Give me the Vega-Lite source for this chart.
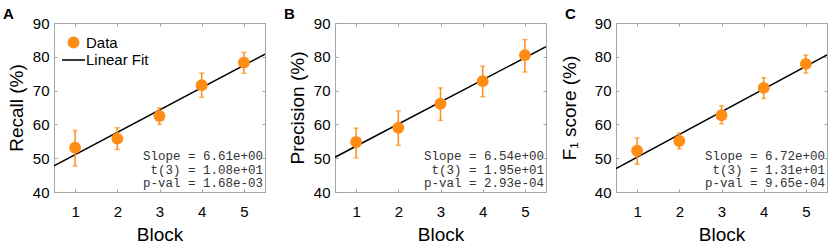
{
  "$schema": "https://vega.github.io/schema/vega-lite/v6.json",
  "padding": {"left": 2, "top": 6, "right": 0, "bottom": 0},
  "background": "white",
  "config": {
    "font": "Liberation Sans",
    "view": {"stroke": "#a8a8a8", "strokeWidth": 1},
    "axis": {"domain": false, "grid": false, "tickColor": "#a0a0a0", "tickSize": -3, "tickWidth": 1, "labelFontSize": 15, "labelColor": "#000000", "titleFontSize": 19, "titleFontWeight": "normal", "titleColor": "#000000", "labelFont": "Liberation Sans", "titleFont": "Liberation Sans"},
    "axisX": {"labelPadding": 15, "titlePadding": 6},
    "axisY": {"labelPadding": 8, "titlePadding": 6},
    "title": {"fontSize": 15, "fontWeight": "bold", "anchor": "start", "frame": "group", "dx": -51, "offset": -6, "color": "#000000", "font": "Liberation Sans"}
  },
  "datasets": {
    "recall": [
      {"block": 1, "mean": 53.1, "lo": 47.7, "hi": 58.2, "series": "Data"},
      {"block": 2, "mean": 55.8, "lo": 52.6, "hi": 59.0, "series": "Data"},
      {"block": 3, "mean": 62.5, "lo": 60.0, "hi": 64.9, "series": "Data"},
      {"block": 4, "mean": 71.6, "lo": 68.0, "hi": 75.2, "series": "Data"},
      {"block": 5, "mean": 78.3, "lo": 75.1, "hi": 81.3, "series": "Data"}
    ],
    "recall_fit": [{"block": 0.5, "value": 47.74}, {"block": 5.5, "value": 80.79}],
    "recall_stats": [{"lines": ["Slope = 6.61e+00", "t(3) = 1.08e+01", "p-val = 1.68e-03"]}],
    "precision": [
      {"block": 1, "mean": 54.8, "lo": 50.1, "hi": 58.9},
      {"block": 2, "mean": 59.0, "lo": 53.8, "hi": 64.0},
      {"block": 3, "mean": 66.1, "lo": 61.2, "hi": 70.8},
      {"block": 4, "mean": 72.8, "lo": 68.2, "hi": 77.2},
      {"block": 5, "mean": 80.5, "lo": 75.5, "hi": 85.1}
    ],
    "precision_fit": [{"block": 0.5, "value": 50.29}, {"block": 5.5, "value": 82.99}],
    "precision_stats": [{"lines": ["Slope = 6.54e+00", "t(3) = 1.95e+01", "p-val = 2.93e-04"]}],
    "f1": [
      {"block": 1, "mean": 52.2, "lo": 48.2, "hi": 56.0},
      {"block": 2, "mean": 55.1, "lo": 52.8, "hi": 57.5},
      {"block": 3, "mean": 62.7, "lo": 60.2, "hi": 65.5},
      {"block": 4, "mean": 70.8, "lo": 67.7, "hi": 73.8},
      {"block": 5, "mean": 77.9, "lo": 75.2, "hi": 80.5}
    ],
    "f1_fit": [{"block": 0.5, "value": 46.94}, {"block": 5.5, "value": 80.54}],
    "f1_stats": [{"lines": ["Slope = 6.72e+00", "t(3) = 1.31e+01", "p-val = 9.65e-04"]}]
  },
  "hconcat": [
    {
      "width": 211, "height": 169,
      "title": {"text": "A"},
      "resolve": {"axis": {"x": "independent", "y": "independent"}},
      "layer": [
        {
          "data": {"name": "recall_fit"},
          "mark": {"type": "line", "color": "#000000", "strokeWidth": 1.5, "clip": true},
          "encoding": {
            "x": {"field": "block", "type": "quantitative", "scale": {"domain": [0.5, 5.5], "nice": false, "zero": false}, "axis": {"orient": "top", "labels": false, "title": null, "values": [1, 2, 3, 4, 5]}},
            "y": {"field": "value", "type": "quantitative", "scale": {"domain": [40, 90], "nice": false, "zero": false}, "axis": {"orient": "right", "labels": false, "title": null, "values": [40, 50, 60, 70, 80, 90]}}
          }
        },
        {
          "data": {"name": "recall"},
          "mark": {"type": "errorbar", "ticks": {"size": 5}, "thickness": 1.5, "color": "#ff8c14"},
          "encoding": {
            "x": {"field": "block", "type": "quantitative", "axis": null},
            "y": {"field": "lo", "type": "quantitative", "axis": null},
            "y2": {"field": "hi"}
          }
        },
        {
          "data": {"name": "recall"},
          "mark": {"type": "point", "filled": true, "size": 140, "opacity": 1, "strokeWidth": 0},
          "encoding": {
            "x": {"field": "block", "type": "quantitative", "axis": {"orient": "bottom", "title": "Block", "values": [1, 2, 3, 4, 5]}},
            "y": {"field": "mean", "type": "quantitative", "axis": {"orient": "left", "title": "Recall (%)", "values": [40, 50, 60, 70, 80, 90]}},
            "color": {"field": "series", "type": "nominal", "scale": {"domain": ["Data", "Linear Fit"], "range": ["#ff8c14", "#000000"]},
              "legend": {"title": null, "orient": "top-left", "offset": 12, "labelFontSize": 15, "labelColor": "#000000", "labelFont": "Liberation Sans", "symbolSize": 140, "labelOffset": 5, "rowPadding": 1.5, "padding": 0, "symbolStrokeWidth": 0, "symbolOpacity": 1}},
            "shape": {"field": "series", "type": "nominal", "scale": {"domain": ["Data", "Linear Fit"], "range": ["circle", "M-1.95,-0.13H1.95V0.13H-1.95Z"]},
              "legend": {"title": null, "orient": "top-left", "offset": 12, "labelFontSize": 15, "labelColor": "#000000", "labelFont": "Liberation Sans", "symbolSize": 140, "labelOffset": 5, "rowPadding": 1.5, "padding": 0, "symbolStrokeWidth": 0, "symbolOpacity": 1}}
          }
        },
        {
          "data": {"name": "recall_stats"},
          "mark": {"type": "text", "align": "right", "baseline": "alphabetic", "font": "Liberation Mono", "fontSize": 12.5, "lineHeight": 13.5, "dx": -2, "dy": -32, "color": "#333333"},
          "encoding": {
            "x": {"datum": 5.5, "type": "quantitative", "axis": null},
            "y": {"datum": 40, "type": "quantitative", "axis": null},
            "text": {"field": "lines"}
          }
        }
      ]
    },
    {
      "width": 211, "height": 169,
      "title": {"text": "B"},
      "resolve": {"axis": {"x": "independent", "y": "independent"}},
      "layer": [
        {
          "data": {"name": "precision_fit"},
          "mark": {"type": "line", "color": "#000000", "strokeWidth": 1.5, "clip": true},
          "encoding": {
            "x": {"field": "block", "type": "quantitative", "scale": {"domain": [0.5, 5.5], "nice": false, "zero": false}, "axis": {"orient": "top", "labels": false, "title": null, "values": [1, 2, 3, 4, 5]}},
            "y": {"field": "value", "type": "quantitative", "scale": {"domain": [40, 90], "nice": false, "zero": false}, "axis": {"orient": "right", "labels": false, "title": null, "values": [40, 50, 60, 70, 80, 90]}}
          }
        },
        {
          "data": {"name": "precision"},
          "mark": {"type": "errorbar", "ticks": {"size": 5}, "thickness": 1.5, "color": "#ff8c14"},
          "encoding": {
            "x": {"field": "block", "type": "quantitative", "axis": null},
            "y": {"field": "lo", "type": "quantitative", "axis": null},
            "y2": {"field": "hi"}
          }
        },
        {
          "data": {"name": "precision"},
          "mark": {"type": "point", "filled": true, "size": 140, "opacity": 1, "strokeWidth": 0, "color": "#ff8c14"},
          "encoding": {
            "x": {"field": "block", "type": "quantitative", "axis": {"orient": "bottom", "title": "Block", "values": [1, 2, 3, 4, 5]}},
            "y": {"field": "mean", "type": "quantitative", "axis": {"orient": "left", "title": "Precision (%)", "values": [40, 50, 60, 70, 80, 90]}}
          }
        },
        {
          "data": {"name": "precision_stats"},
          "mark": {"type": "text", "align": "right", "baseline": "alphabetic", "font": "Liberation Mono", "fontSize": 12.5, "lineHeight": 13.5, "dx": -2, "dy": -32, "color": "#333333"},
          "encoding": {
            "x": {"datum": 5.5, "type": "quantitative", "axis": null},
            "y": {"datum": 40, "type": "quantitative", "axis": null},
            "text": {"field": "lines"}
          }
        }
      ]
    },
    {
      "width": 211, "height": 169,
      "title": {"text": "C"},
      "resolve": {"axis": {"x": "independent", "y": "independent"}},
      "layer": [
        {
          "data": {"name": "f1_fit"},
          "mark": {"type": "line", "color": "#000000", "strokeWidth": 1.5, "clip": true},
          "encoding": {
            "x": {"field": "block", "type": "quantitative", "scale": {"domain": [0.5, 5.5], "nice": false, "zero": false}, "axis": {"orient": "top", "labels": false, "title": null, "values": [1, 2, 3, 4, 5]}},
            "y": {"field": "value", "type": "quantitative", "scale": {"domain": [40, 90], "nice": false, "zero": false}, "axis": {"orient": "right", "labels": false, "title": null, "values": [40, 50, 60, 70, 80, 90]}}
          }
        },
        {
          "data": {"name": "f1"},
          "mark": {"type": "errorbar", "ticks": {"size": 5}, "thickness": 1.5, "color": "#ff8c14"},
          "encoding": {
            "x": {"field": "block", "type": "quantitative", "axis": null},
            "y": {"field": "lo", "type": "quantitative", "axis": null},
            "y2": {"field": "hi"}
          }
        },
        {
          "data": {"name": "f1"},
          "mark": {"type": "point", "filled": true, "size": 140, "opacity": 1, "strokeWidth": 0, "color": "#ff8c14"},
          "encoding": {
            "x": {"field": "block", "type": "quantitative", "axis": {"orient": "bottom", "title": "Block", "values": [1, 2, 3, 4, 5]}},
            "y": {"field": "mean", "type": "quantitative", "axis": {"orient": "left", "title": "F₁ score (%)", "titlePadding": 15, "values": [40, 50, 60, 70, 80, 90]}}
          }
        },
        {
          "data": {"name": "f1_stats"},
          "mark": {"type": "text", "align": "right", "baseline": "alphabetic", "font": "Liberation Mono", "fontSize": 12.5, "lineHeight": 13.5, "dx": -2, "dy": -32, "color": "#333333"},
          "encoding": {
            "x": {"datum": 5.5, "type": "quantitative", "axis": null},
            "y": {"datum": 40, "type": "quantitative", "axis": null},
            "text": {"field": "lines"}
          }
        }
      ]
    }
  ],
  "spacing": 70,
  "bounds": "flush"
}
